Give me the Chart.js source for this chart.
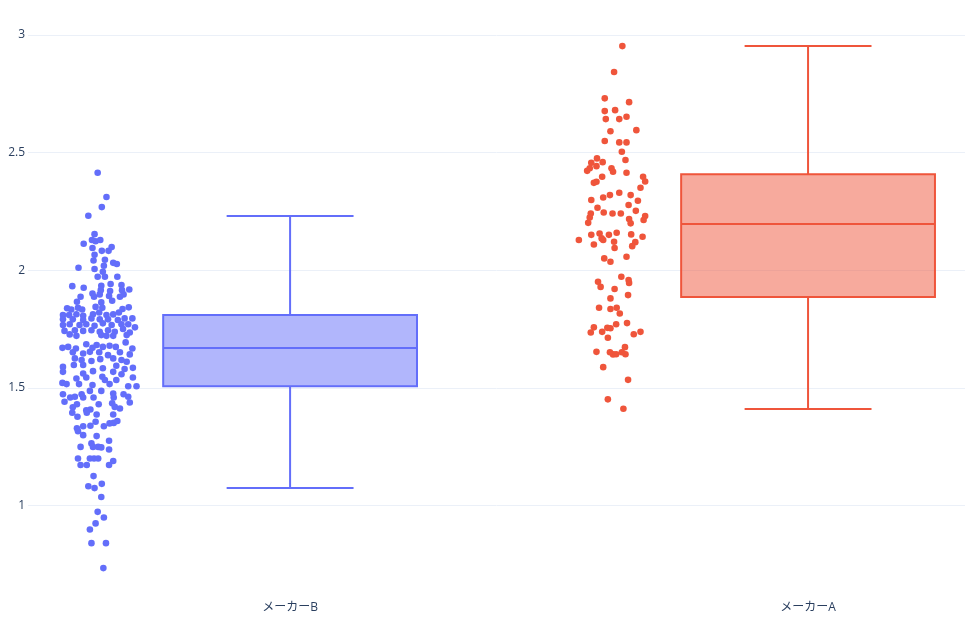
<!DOCTYPE html>
<html>
<head>
<meta charset="utf-8">
<script src="https://cdn.jsdelivr.net/npm/chart.js@4.4.1/dist/chart.umd.min.js"></script>
<style>
    html, body { margin: 0; padding: 0; background: #ffffff; }
    #wrap { width: 969px; height: 622px; }
</style>
</head>
<body>
<div id="wrap"><canvas id="chart" width="969" height="622"></canvas></div>
<script>
// categories and box statistics (same order)
const categories = ["メーカーB", "メーカーA"];
const lowerFence = [1.075, 1.411];
const q1 = [1.508, 1.887];
const median = [1.670, 2.197];
const q3 = [1.810, 2.409];
const upperFence = [2.231, 2.953];
const yTicks = [1, 1.5, 2, 2.5, 3];

// raw points, jitter is in hundredths of a category
const bValues = [
    2.415, 2.312, 2.269, 2.232, 2.154, 2.129, 2.124, 2.129, 2.113, 2.095,
    2.083, 2.083, 2.099, 2.066, 2.042, 2.045, 2.032, 2.027, 2.020, 2.011,
    2.006, 1.994, 1.973, 1.973, 1.973, 1.933, 1.926, 1.935, 1.942, 1.938,
    1.916, 1.912, 1.916, 1.919, 1.902, 1.888, 1.888, 1.898, 1.891, 1.888,
    1.898, 1.867, 1.864, 1.871, 1.839, 1.834, 1.841, 1.834, 1.845, 1.841,
    1.836, 1.843, 1.810, 1.810, 1.814, 1.807, 1.814, 1.821, 1.810, 1.813,
    1.821, 1.792, 1.792, 1.789, 1.796, 1.792, 1.792, 1.789, 1.796, 1.796,
    1.768, 1.771, 1.768, 1.771, 1.765, 1.775, 1.768, 1.771, 1.771, 1.758,
    1.743, 1.746, 1.743, 1.746, 1.739, 1.746, 1.739, 1.751, 1.736, 1.728,
    1.722, 1.725, 1.722, 1.722, 1.725, 1.686, 1.683, 1.671, 1.675, 1.668,
    1.671, 1.675, 1.680, 1.675, 1.694, 1.668, 1.652, 1.647, 1.654, 1.652,
    1.640, 1.652, 1.643, 1.626, 1.619, 1.615, 1.623, 1.626, 1.619, 1.612,
    1.590, 1.598, 1.598, 1.572, 1.584, 1.595, 1.581, 1.586, 1.569, 1.562,
    1.569, 1.559, 1.522, 1.517, 1.541, 1.517, 1.545, 1.513, 1.548, 1.534,
    1.517, 1.534, 1.508, 1.545, 1.508, 1.474, 1.460, 1.463, 1.474, 1.460,
    1.488, 1.460, 1.488, 1.477, 1.460, 1.474, 1.463, 1.439, 1.442, 1.431,
    1.418, 1.431, 1.435, 1.420, 1.413, 1.395, 1.406, 1.409, 1.395, 1.388,
    1.388, 1.378, 1.338, 1.329, 1.317, 1.340, 1.357, 1.338, 1.350, 1.352,
    1.360, 1.300, 1.296, 1.276, 1.250, 1.265, 1.250, 1.250, 1.248, 1.239,
    1.201, 1.201, 1.201, 1.201, 1.190, 1.173, 1.173, 1.173, 1.126, 1.083,
    1.075, 1.093, 1.037, 0.974, 0.950, 0.925, 0.899, 0.841, 0.841, 0.735
];
const bJitter = [
    -0.4, 1.3, 0.4, -2.2, -1.0, -1.5, -0.8, 0.1, -3.1, -1.4,
    0.4, 1.7, 2.3, -1.0, -1.2, 1.0, 2.6, 3.3, 0.8, -4.1,
    -1.0, 0.6, -0.4, 1.0, 3.4, -5.3, -3.1, 0.3, 2.1, 4.2,
    0.2, 2.0, 4.3, 5.7, -1.4, -3.7, -1.1, 0, 1.8, 3.9,
    4.6, -4.4, 0.3, 2.4, -6.3, -5.5, -4.2, -3.4, -0.8, 0.5,
    4.4, 5.6, -7.1, -5.9, -4.5, -3.2, -1.3, -0.1, 1.3, 2.6,
    3.7, -7.1, -5.2, -3.2, -1.6, 0, 1.6, 3.5, 4.8, 6.3,
    -7.1, -5.8, -3.9, -2.6, -1.0, 0.6, 2.3, 4.2, 5.5, 6.8,
    -6.8, -4.8, -3.2, -1.6, 0, 1.6, 2.9, 4.5, 5.8, -5.8,
    -4.5, 0.3, 1.3, 2.6, 5.2, -2.6, -0.6, -7.2, -6.1, -4.6,
    -1.4, 0.6, 1.9, 3.1, 5.0, 6.3, -5.2, -3.2, -1.9, -0.1,
    1.6, 3.9, 5.8, -4.8, -3.5, -1.6, 0.1, 2.6, 4.2, 5.2,
    -7.1, -5.0, -3.2, -1.3, 0.6, 3.2, 4.8, 6.4, -7.1, -3.2,
    2.6, 4.2, -7.2, -6.4, -4.5, -4.0, -2.6, -1.4, 0.5, 1.0,
    1.9, 3.2, 5.5, 6.4, 7.1, -7.1, -5.7, -4.8, -3.5, -3.2,
    -1.9, -1.2, 0.3, 2.6, 2.7, 4.6, 5.5, 5.8, -6.8, -4.4,
    -5.2, -0.2, 2.4, 2.9, 3.9, -5.3, -2.6, -1.8, -2.5, -0.6,
    2.6, -4.3, -3.2, -4.4, -4.2, -1.8, -0.8, 0.8, 1.9, 2.7,
    3.4, -3.2, -0.6, 1.8, -3.7, -1.6, -1.3, -0.3, 0.3, 1.8,
    -4.2, -1.9, -1.1, -0.3, 2.6, -3.7, -2.5, 1.8, -1.2, -2.2,
    -1.0, 0.4, 0.3, -0.4, 0.8, -0.8, -1.9, -1.6, 1.2, 0.7
];
const aValues = [
    2.953, 2.843, 2.731, 2.715, 2.677, 2.681, 2.643, 2.643, 2.653, 2.591,
    2.596, 2.550, 2.544, 2.544, 2.504, 2.476, 2.457, 2.460, 2.469, 2.423,
    2.443, 2.434, 2.434, 2.419, 2.415, 2.398, 2.372, 2.377, 2.398, 2.378,
    2.351, 2.299, 2.310, 2.320, 2.330, 2.320, 2.296, 2.266, 2.278, 2.242,
    2.246, 2.242, 2.242, 2.253, 2.225, 2.218, 2.231, 2.202, 2.200, 2.214,
    2.129, 2.151, 2.110, 2.157, 2.136, 2.129, 2.151, 2.160, 2.122, 2.095,
    2.153, 2.120, 2.103, 2.143, 2.051, 2.037, 2.058, 1.952, 1.930, 1.921,
    1.973, 1.959, 1.947, 1.895, 1.881, 1.841, 1.836, 1.841, 1.817, 1.758,
    1.736, 1.739, 1.756, 1.754, 1.771, 1.776, 1.714, 1.729, 1.739, 1.654,
    1.652, 1.643, 1.644, 1.652, 1.674, 1.644, 1.589, 1.535, 1.452, 1.412
];
const aJitter = [
    0.9, -0.7, -2.5, 2.2, -2.5, -0.5, -2.3, 0.3, 1.7, -1.4,
    3.6, -2.5, 0.3, 1.7, 0.8, -4.0, -5.1, -2.9, 1.5, -5.9,
    -4.1, -5.4, -1.2, -0.9, 1.7, -3.0, -4.6, -4.1, 4.9, 5.3,
    4.4, -5.1, -2.8, -1.5, 0.3, 2.5, 3.9, -3.9, 2.1, -5.2,
    -2.7, -1.0, 0.6, 3.5, -5.4, 2.2, 5.3, -5.7, 2.5, 5.0,
    -7.5, -5.1, -4.6, -3.5, -3.1, -2.8, -1.7, -0.2, -0.7, -0.6,
    2.6, 3.4, 2.8, 4.8, -2.6, -1.4, 1.7, -3.8, -3.3, -0.6,
    0.7, 2.1, 2.2, 2.0, -1.4, -3.6, -1.4, -0.2, 0.4, -4.6,
    -5.2, -3.0, -2.0, -1.4, -0.3, 1.8, -1.9, 3.1, 4.4, -4.1,
    -1.5, -0.9, -0.3, 0.8, 1.4, 1.5, -2.8, 2.0, -1.9, 1.1
];

const COLORS = ["#636efa", "#EF553B"];
const FILLS = ["rgba(99,110,250,0.5)", "rgba(239,85,59,0.5)"];
const TEXT = "#2a3f5f";
const FONT = { family: "'Open Sans', 'Liberation Sans', 'Noto Sans CJK JP', sans-serif", size: 12 };
const BOX_HALF = 0.245;   // half box width, category units
const POINT_POS = -1.5;   // plotly style pointpos

function pointsFor(idx, values, jitter) {
    const cx = idx + POINT_POS * BOX_HALF;
    return values.map((v, i) => ({ x: cx + jitter[i] / 100, y: v }));
}

// draws the boxes + whiskers from the stats arrays
const boxPlugin = {
    id: "boxes",
    beforeDatasetsDraw(chart) {
        const { ctx } = chart;
        const xs = chart.scales.x;
        const ys = chart.scales.y;
        ctx.save();
        categories.forEach((_, i) => {
            const left = xs.getPixelForValue(i - BOX_HALF);
            const right = xs.getPixelForValue(i + BOX_HALF);
            const capL = xs.getPixelForValue(i - BOX_HALF / 2);
            const capR = xs.getPixelForValue(i + BOX_HALF / 2);
            const cx = xs.getPixelForValue(i);
            const yLo = ys.getPixelForValue(lowerFence[i]);
            const yQ1 = ys.getPixelForValue(q1[i]);
            const yMed = ys.getPixelForValue(median[i]);
            const yQ3 = ys.getPixelForValue(q3[i]);
            const yHi = ys.getPixelForValue(upperFence[i]);

            ctx.fillStyle = FILLS[i];
            ctx.fillRect(left, yQ3, right - left, yQ1 - yQ3);

            ctx.strokeStyle = COLORS[i];
            ctx.lineWidth = 2;
            ctx.beginPath();
            ctx.rect(left, yQ3, right - left, yQ1 - yQ3);
            ctx.moveTo(left, yMed); ctx.lineTo(right, yMed);
            ctx.moveTo(cx, yQ3); ctx.lineTo(cx, yHi);
            ctx.moveTo(cx, yQ1); ctx.lineTo(cx, yLo);
            ctx.moveTo(capL, yHi); ctx.lineTo(capR, yHi);
            ctx.moveTo(capL, yLo); ctx.lineTo(capR, yLo);
            ctx.stroke();
        });
        ctx.restore();
    }
};

new Chart(document.getElementById("chart"), {
    type: "scatter",
    data: {
        datasets: [
            {
                label: categories[0],
                data: pointsFor(0, bValues, bJitter),
                backgroundColor: COLORS[0],
                borderWidth: 0,
                pointRadius: 3.3,
            },
            {
                label: categories[1],
                data: pointsFor(1, aValues, aJitter),
                backgroundColor: COLORS[1],
                borderWidth: 0,
                pointRadius: 3.3,
            },
        ],
    },
    options: {
        responsive: false,
        animation: false,
        devicePixelRatio: 1,
        layout: { padding: { top: 28, right: 0, bottom: 0, left: 0 } },
        plugins: {
            legend: { display: false },
            tooltip: { enabled: false },
        },
        scales: {
            x: {
                type: "linear",
                min: -0.506,
                max: 1.303,
                afterBuildTicks: (s) => { s.ticks = categories.map((_, i) => ({ value: i })); },
                afterFit: (s) => { s.height = 36; },
                ticks: {
                    callback: (v) => categories[v],
                    color: TEXT,
                    font: FONT,
                    padding: 6,
                    autoSkip: false,
                    maxRotation: 0,
                },
                grid: { display: false },
                border: { display: false },
            },
            y: {
                type: "linear",
                min: 0.659,
                max: 3.03,
                afterBuildTicks: (s) => { s.ticks = yTicks.map((v) => ({ value: v })); },
                afterFit: (s) => { s.width = 28; },
                ticks: {
                    callback: (v) => String(v),
                    color: TEXT,
                    font: FONT,
                    padding: 3,
                },
                grid: { color: "#ebf0f8", lineWidth: 1, drawTicks: false },
                border: { display: false },
            },
        },
    },
    plugins: [boxPlugin],
});
</script>
</body>
</html>
